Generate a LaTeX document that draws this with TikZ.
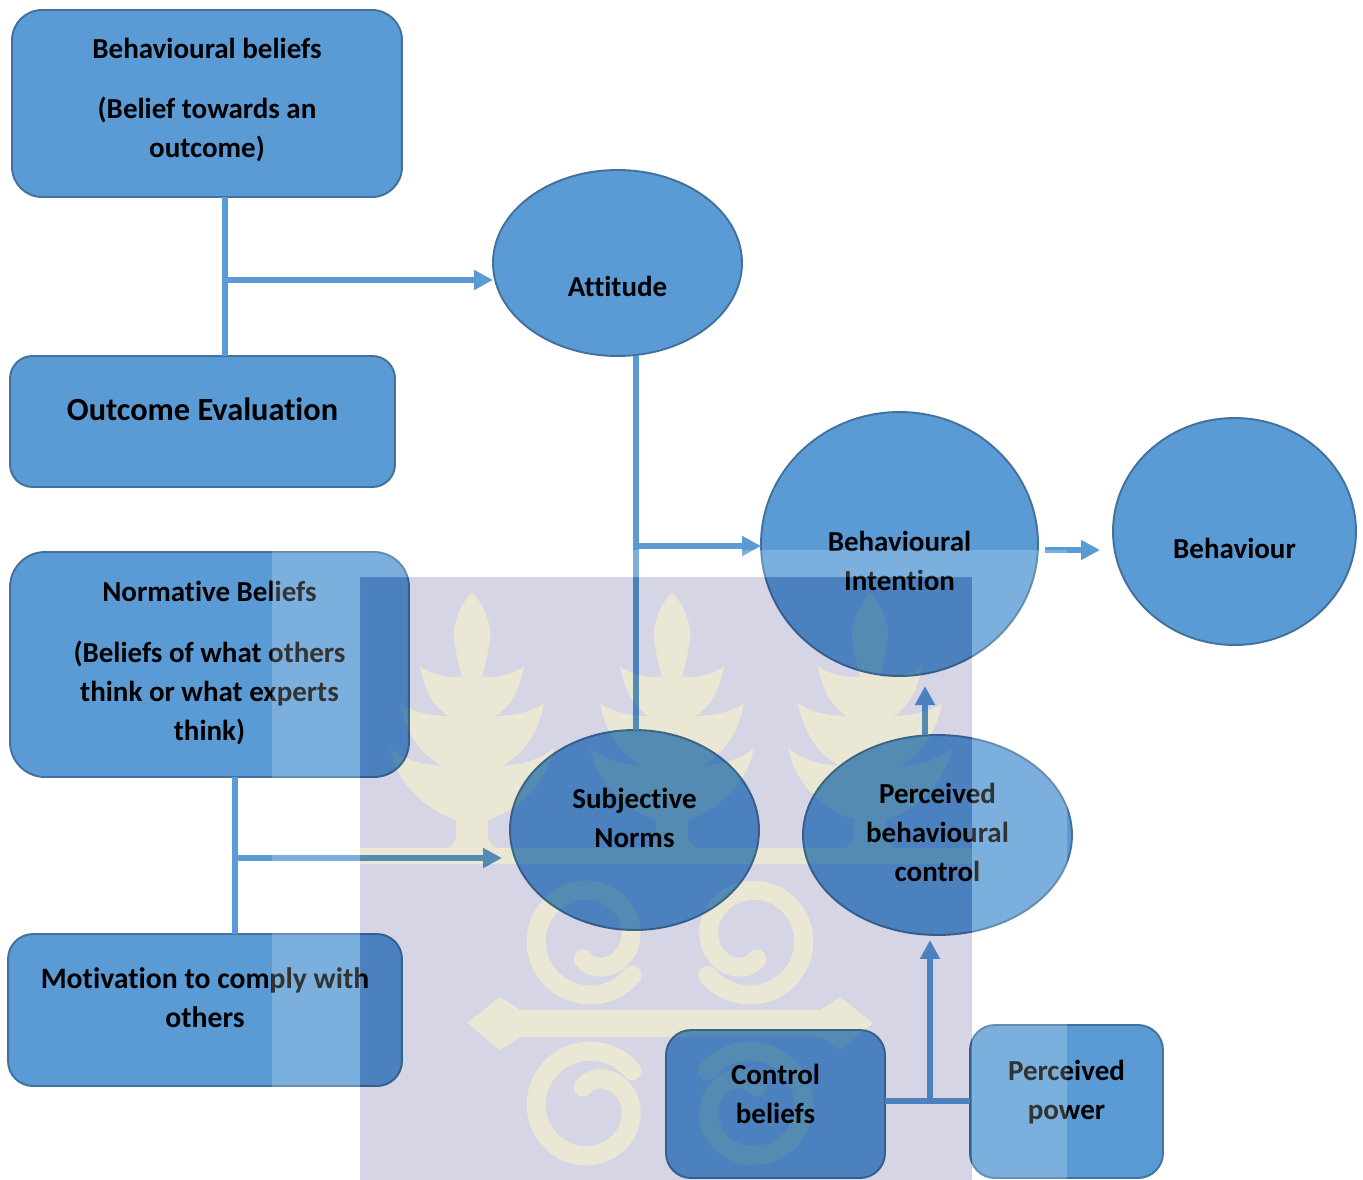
\documentclass[tikz,border=0pt]{standalone}
\usepackage{fontspec}
\setmainfont{Carlito}[Ligatures=NoCommon]
\usetikzlibrary{arrows.meta,positioning,calc,shapes.geometric}
\definecolor{boxblue}{HTML}{5B9BD5}
\definecolor{edgeblue}{HTML}{41719C}
\definecolor{wmlilac}{HTML}{D5D5E6}
\definecolor{wmdodge}{rgb}{0.095,0.08,0}
\definecolor{wmtint}{rgb}{1,1,0.93}
\newcommand{\txt}[2]{\raisebox{#1}[0pt][0pt]{\begin{tabular}{@{}c@{}}#2\end{tabular}}}
\newcommand{\wmshapes}{
    \foreach \px in {472,672,870} {
        (\px,592) .. controls (\px+12,605) and (\px+20,625) .. (\px+18,640)
        .. controls (\px+16,655) and (\px+12,668) .. (\px+10,677)
        .. controls (\px+25,678) and (\px+42,674) .. (\px+52,666)
        .. controls (\px+48,690) and (\px+38,708) .. (\px+23,716)
        .. controls (\px+42,716) and (\px+60,712) .. (\px+72,703)
        .. controls (\px+66,735) and (\px+50,755) .. (\px+30,766)
        .. controls (\px+52,765) and (\px+70,758) .. (\px+82,748)
        .. controls (\px+75,785) and (\px+45,810) .. (\px+16,820)
        -- (\px+16,838) .. controls (\px+18,845) and (\px+24,848) .. (\px+30,850)
        -- (\px-30,850) .. controls (\px-24,848) and (\px-18,845) .. (\px-16,838)
        -- (\px-16,820) .. controls (\px-45,810) and (\px-75,785) .. (\px-82,748)
        .. controls (\px-70,758) and (\px-52,765) .. (\px-30,766)
        .. controls (\px-50,755) and (\px-66,735) .. (\px-72,703)
        .. controls (\px-60,712) and (\px-42,716) .. (\px-23,716)
        .. controls (\px-38,708) and (\px-48,690) .. (\px-52,666)
        .. controls (\px-42,674) and (\px-25,678) .. (\px-10,677)
        .. controls (\px-12,668) and (\px-16,655) .. (\px-18,640)
        .. controls (\px-20,625) and (\px-12,605) .. (\px,592) -- cycle
    }
    (972,848) rectangle (360,864)
    (467,1023) -- (500,997) -- (520,1010) -- (820,1010) -- (840,997) -- (873,1023)
        -- (840,1050) -- (820,1037) -- (520,1037) -- (500,1050) -- cycle
}
\newcommand{\wmspiral}[5]{
    \draw[#1,line width=0.38cm,line cap=round]
        plot[domain=0:430,samples=90,variable=\t]
        ({#2+#4*(55-35*(\t/430)^3)*cos(\t+40)},{#3+#5*(55-35*(\t/430)^3)*sin(\t+40)});
}
\tikzset{
    >={Triangle[length=0.38cm,width=0.38cm]},
    every picture/.style={line width=0.5pt},
    box/.style={rectangle,rounded corners=#1,draw=edgeblue,fill=boxblue,line width=1.1pt,inner sep=0pt,outer sep=0pt},
    box/.default=0.5cm,
    oval/.style={ellipse,draw=edgeblue,fill=boxblue,line width=1.1pt,inner sep=0pt,outer sep=0pt},
    link/.style={draw=boxblue,line width=3.2pt}
}

\begin{document}
\begin{tikzpicture}[
        x=0.02cm,y=-0.02cm,
        every node/.style={font=\fontsize{16.5}{22.2}\selectfont\bfseries}
    ]
    \useasboundingbox (0,0) rectangle (1363,1180);

    \node[box=0.6cm,minimum width=7.8cm,minimum height=3.74cm] (bb) at (207,103.5)
        {\txt{-2.2pt}{Behavioural beliefs\\[12pt] (Belief towards an\\ outcome)}};
    \node[box=0.45cm,minimum width=7.7cm,minimum height=2.62cm,font=\fontsize{18.4}{22.2}\selectfont\bfseries] (oe) at (202.5,421.5)
        {\txt{0.8pt}{Outcome Evaluation}};
    \node[box=0.7cm,minimum width=7.98cm,minimum height=4.5cm] (nb) at (209.5,664.5)
        {\txt{-3.6pt}{Normative Beliefs\\[12pt] (Beliefs of what others\\ think or what experts\\ think)}};
    \node[box,minimum width=7.88cm,minimum height=3.04cm,font=\fontsize{16.9}{22.2}\selectfont\bfseries] (mc) at (205,1010)
        {\txt{1pt}{Motivation to comply with\\ others}};
    \node[box,minimum width=4.38cm,minimum height=2.96cm] (cb) at (775.5,1104)
        {\txt{0pt}{Control\\ beliefs}};
    \node[box,minimum width=3.86cm,minimum height=3.06cm] (pp) at (1066.5,1101.5)
        {\txt{0.7pt}{Perceived\\ power}};

    \node[oval,minimum width=4.98cm,minimum height=3.72cm] (att) at (617.5,263)
        {\txt{-18.7pt}{Attitude}};
    \node[oval,minimum width=5.54cm,minimum height=5.28cm] (bi) at (899.5,544)
        {\txt{-15.5pt}{Behavioural\\ Intention}};
    \node[oval,minimum width=4.86cm,minimum height=4.54cm] (beh) at (1234.5,531.5)
        {\txt{-15.5pt}{Behaviour}};
    \node[oval,minimum width=4.98cm,minimum height=4cm] (sn) at (634.5,830)
        {\txt{1.5pt}{Subjective\\ Norms}};
    \node[oval,minimum width=5.38cm,minimum height=4cm] (pbc) at (937.5,835)
        {\txt{-4.4pt}{Perceived\\ behavioural\\ control}};

    \coordinate (j1) at (225,280);
    \draw[link] (j1 |- bb.south) -- (j1 |- oe.north);
    \draw[link,->] (j1) -- (j1 -| att.west);

    \coordinate (j2) at (636,546);
    \draw[link] (j2 |- att.south) -- (j2 |- sn.north);
    \draw[link,->] (j2) -- (j2 -| bi.west);

    \coordinate (j3) at (1100,550);
    \draw[link,->] ($(bi.east |- j3)+(7,0)$) -- (j3);

    \coordinate (j4) at (235,858);
    \draw[link] (j4 |- nb.south) -- (j4 |- mc.north);
    \draw[link,->] (j4) -- ($(j4 -| sn.west)+(-8,0)$);

    \coordinate (j5) at (925,686);
    \draw[link,->] (j5 |- pbc.north) -- (j5);

    \coordinate (j6) at (930,1101);
    \draw[link] (cb.east |- j6) -- (pp.west |- j6);
    \draw[link,->] (j6) -- ($(j6 |- pbc.south)+(0,5)$);

    \begin{scope}
        \clip (360,577) rectangle (972,1180);
        \fill[wmlilac,blend mode=multiply] (360,577) rectangle (972,1180);
        \fill[wmdodge,blend mode=color dodge] \wmshapes;
        \fill[wmtint,blend mode=multiply] \wmshapes;
        \foreach \sx/\sy/\cx/\cy in {1/1/590/940,-1/1/750/940,1/-1/590/1106,-1/-1/750/1106} {
            \wmspiral{wmdodge,blend mode=color dodge}{\cx}{\cy}{\sx}{\sy}
            \wmspiral{wmtint,blend mode=multiply}{\cx}{\cy}{\sx}{\sy}
        }
    \end{scope}
    \fill[white,opacity=0.2,even odd rule] (272,550) rectangle (1067,1180) (360,577) rectangle (972,1180);
\end{tikzpicture}
\end{document}
